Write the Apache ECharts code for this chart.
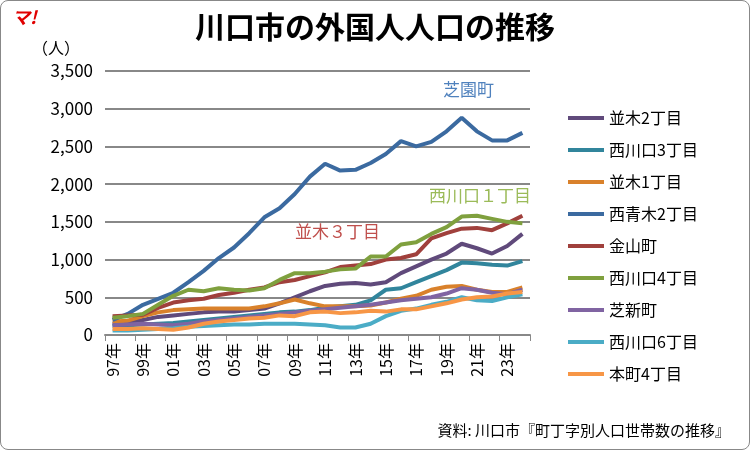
<!DOCTYPE html>
<html lang="ja">
<head>
<meta charset="UTF-8">
<title>川口市の外国人人口の推移</title>
<script src="https://cdn.jsdelivr.net/npm/echarts@6/dist/echarts.min.js"></script>
<style>
  * { margin: 0; padding: 0 }
  html, body { width: 752px; height: 452px; background: #fff; }
  #main { width: 750px; height: 450px; border: 1px solid #888; border-radius: 8px; box-sizing: border-box; }
</style>
</head>
<body>
<div id="main"></div>
<script>
var years = ['97年','98年','99年','00年','01年','02年','03年','04年','05年','06年','07年','08年','09年','10年',
  '11年','12年','13年','14年','15年','16年','17年','18年','19年','20年','21年','22年','23年','24年'];

var namiki2 = [150,160,200,240,260,280,300,310,310,330,350,420,500,580,650,680,690,670,700,820,910,1000,1080,1210,1150,1080,1180,1340];
var nishikawaguchi3 = [120,130,140,150,160,180,200,220,240,260,280,300,310,330,360,380,400,460,600,620,700,780,860,960,950,930,920,980];
var namiki1 = [180,190,250,300,330,340,350,350,350,350,380,420,470,420,380,380,380,390,430,480,520,600,640,650,600,570,570,630];
var nishiaoki2 = [200,280,400,480,560,700,850,1020,1160,1350,1560,1680,1870,2100,2270,2180,2190,2280,2400,2570,2500,2560,2700,2880,2700,2580,2580,2680];
var kanayama = [250,260,270,360,430,460,480,530,560,600,630,700,730,780,830,900,920,940,1000,1020,1070,1280,1350,1410,1420,1390,1480,1580];
var nishikawaguchi4 = [230,250,280,400,520,600,580,620,600,590,620,730,820,820,840,870,880,1040,1040,1200,1230,1340,1430,1570,1580,1540,1500,1480];
var shibashin = [130,140,150,140,130,150,180,200,220,240,260,280,300,320,340,360,380,400,430,460,480,500,550,620,600,560,540,600];
var nishikawaguchi6 = [60,60,70,80,90,110,120,130,140,140,150,150,150,140,130,100,100,150,250,320,350,400,440,500,460,450,500,540];
var honcho4 = [80,80,90,80,70,100,150,180,200,220,230,260,250,300,310,290,300,320,310,340,340,380,420,470,500,510,550,570];

var seriesDefs = [
  ['並木2丁目', namiki2, '#604a7b'],
  ['西川口3丁目', nishikawaguchi3, '#31859c'],
  ['並木1丁目', namiki1, '#d9812b'],
  ['西青木2丁目', nishiaoki2, '#3b6aa0'],
  ['金山町', kanayama, '#a0403c'],
  ['西川口4丁目', nishikawaguchi4, '#7fa03e'],
  ['芝新町', shibashin, '#8064a2'],
  ['西川口6丁目', nishikawaguchi6, '#4bacc6'],
  ['本町4丁目', honcho4, '#f79646']
];

var font = '"Noto Sans CJK JP", sans-serif';
var chart = echarts.init(document.getElementById('main'));
chart.setOption({
  animation: false,
  textStyle: { fontFamily: font },
  title: [
    { text: '川口市の外国人人口の推移', left: 'center', top: 6, textStyle: { fontSize: 30, fontWeight: 'bold', color: '#000', fontFamily: font } },
    { text: 'マ!', left: 6, top: 2, textStyle: { fontSize: 18, fontWeight: 'bold', fontStyle: 'italic', color: '#e00000', fontFamily: font } },
    { text: '（人）', left: 26, top: 34, textStyle: { fontSize: 16, fontWeight: 'normal', color: '#000', fontFamily: font } },
    { text: '資料: 川口市『町丁字別人口世帯数の推移』', right: 14, bottom: 6, textStyle: { fontSize: 15, fontWeight: 'normal', color: '#000', fontFamily: font } }
  ],
  grid: { left: 104, right: 219, top: 70, bottom: 114 },
  legend: {
    orient: 'vertical', left: 562, top: 104, itemGap: 16, itemWidth: 36, itemHeight: 4,
    icon: 'rect', textStyle: { fontSize: 16, color: '#000', fontFamily: font },
    data: seriesDefs.map(function (d) { return d[0]; })
  },
  xAxis: {
    type: 'category', data: years, boundaryGap: true,
    axisLine: { lineStyle: { color: '#888', width: 2 } },
    axisTick: { show: true, lineStyle: { color: '#888' }, length: 6 },
    axisLabel: { interval: 1, rotate: 90, fontSize: 16, color: '#000', margin: 8 }
  },
  yAxis: {
    type: 'value', min: 0, max: 3500, interval: 500,
    axisLine: { show: false }, axisTick: { show: false },
    axisLabel: { fontSize: 17, color: '#000', margin: 12, formatter: function (v) { return v.toLocaleString('en-US'); } },
    splitLine: { lineStyle: { color: '#888', width: 2 } }
  },
  series: seriesDefs.map(function (d) {
    return {
      name: d[0], type: 'line', data: d[1], symbol: 'none',
      itemStyle: { color: d[2] }, lineStyle: { color: d[2], width: 4 }
    };
  }),
  graphic: [
    { type: 'text', left: 442, top: 80, style: { text: '芝園町', fill: '#4f81bd', font: '17px ' + font } },
    { type: 'text', left: 428, top: 186, style: { text: '西川口１丁目', fill: '#9bbb59', font: '17px ' + font } },
    { type: 'text', left: 294, top: 222, style: { text: '並木３丁目', fill: '#c0504d', font: '17px ' + font } }
  ]
});
</script>
</body>
</html>
